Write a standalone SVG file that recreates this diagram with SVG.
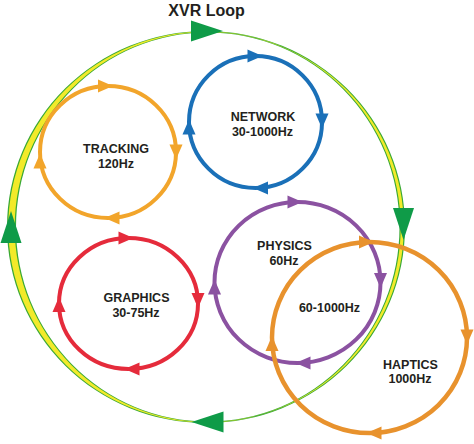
<svg xmlns="http://www.w3.org/2000/svg" xmlns:xlink="http://www.w3.org/1999/xlink" width="474" height="444" viewBox="0 0 474 444">
<style>
  .lbl { font-family: "Liberation Sans", Arial, sans-serif; font-weight: bold; font-size: 12.5px; fill: #231f20; text-anchor: middle; }
  .title { font-family: "Liberation Sans", Arial, sans-serif; font-weight: bold; font-size: 16px; fill: #231f20; text-anchor: middle; }
  .ring { fill: none; stroke-width: 4; }
  .trk { stroke: #f2a52b; fill: #f2a52b; }
  .net { stroke: #1a70b8; fill: #1a70b8; }
  .gfx { stroke: #e52b3b; fill: #e52b3b; }
  .phy { stroke: #8b52a1; fill: #8b52a1; }
  .hap { stroke: #e8922d; fill: #e8922d; }
  .ring.trk, .ring.net, .ring.gfx, .ring.phy, .ring.hap { fill: none; }
  .head { stroke: none; }
  .loopgreen { fill: #3aa935; fill-rule: evenodd; }
  .loopyellow { fill: #f2ea2a; fill-rule: evenodd; }
  .looparrow { fill: #0f9b48; }
</style>
<defs>
  <path id="tri" d="M8,0 L-7,-6.5 L-7,6.5 Z"/>
  <path id="bigtri" d="M16,0 L-16,-10.5 L-16,10.5 Z"/>
</defs>
<rect width="474" height="444" fill="#ffffff"/>

<g id="connectors">
  <path class="loopgreen" d="M7,227 A199,196 0 1,0 405,227 A199,196 0 1,0 7,227 Z M16,227 A191.75,194.5 0 1,0 399.5,227 A191.75,194.5 0 1,0 16,227 Z"/>
  <path class="loopyellow" d="M8.3,227 A197.75,195.5 0 1,0 403.8,227 A197.75,195.5 0 1,0 8.3,227 Z M14.7,227 A193,195 0 1,0 400.7,227 A193,195 0 1,0 14.7,227 Z"/>
  <use xlink:href="#bigtri" class="looparrow" transform="translate(207,31)"/>
  <use xlink:href="#bigtri" class="looparrow" transform="translate(403.5,224) rotate(90)"/>
  <use xlink:href="#bigtri" class="looparrow" transform="translate(207.5,422) rotate(180)"/>
  <use xlink:href="#bigtri" class="looparrow" transform="translate(11,227) rotate(-90)"/>
</g>

<text class="title" x="206.5" y="16">XVR Loop</text>

<g id="tracking">
  <ellipse class="ring trk" cx="108" cy="152" rx="68" ry="66"/>
  <use xlink:href="#tri" class="trk head" transform="translate(105,86)"/>
  <use xlink:href="#tri" class="trk head" transform="translate(176,151.5) rotate(90)"/>
  <use xlink:href="#tri" class="trk head" transform="translate(112.5,218) rotate(180)"/>
  <use xlink:href="#tri" class="trk head" transform="translate(40,161.5) rotate(-90)"/>
  <text class="lbl" x="116" y="153">TRACKING</text>
  <text class="lbl" x="116" y="168">120Hz</text>
</g>

<g id="network">
  <ellipse class="ring net" cx="255.5" cy="122" rx="66.5" ry="66"/>
  <use xlink:href="#tri" class="net head" transform="translate(254.5,56)"/>
  <use xlink:href="#tri" class="net head" transform="translate(322,120.5) rotate(90)"/>
  <use xlink:href="#tri" class="net head" transform="translate(261,188) rotate(180)"/>
  <use xlink:href="#tri" class="net head" transform="translate(189,127.5) rotate(-90)"/>
  <text class="lbl" x="263" y="121">NETWORK</text>
  <text class="lbl" x="262.5" y="136">30-1000Hz</text>
</g>

<g id="graphics">
  <ellipse class="ring gfx" cx="128.5" cy="303.5" rx="69.5" ry="65.5"/>
  <use xlink:href="#tri" class="gfx head" transform="translate(125.5,238)"/>
  <use xlink:href="#tri" class="gfx head" transform="translate(198,300) rotate(90)"/>
  <use xlink:href="#tri" class="gfx head" transform="translate(132.5,369) rotate(180)"/>
  <use xlink:href="#tri" class="gfx head" transform="translate(59,305) rotate(-90)"/>
  <text class="lbl" x="136.5" y="302">GRAPHICS</text>
  <text class="lbl" x="136" y="317">30-75Hz</text>
</g>

<g id="physics">
  <ellipse class="ring phy" cx="297.5" cy="282.5" rx="83" ry="80.5"/>
  <use xlink:href="#tri" class="phy head" transform="translate(294.5,202)"/>
  <use xlink:href="#tri" class="phy head" transform="translate(380.5,280) rotate(90)"/>
  <use xlink:href="#tri" class="phy head" transform="translate(303.5,363) rotate(180)"/>
  <use xlink:href="#tri" class="phy head" transform="translate(214.5,287.5) rotate(-90)"/>
  <text class="lbl" x="284.5" y="250">PHYSICS</text>
  <text class="lbl" x="284" y="265">60Hz</text>
</g>

<g id="haptics">
  <ellipse class="ring hap" cx="369.5" cy="337.5" rx="97.5" ry="95.5" style="stroke-width:4.5"/>
  <use xlink:href="#tri" class="hap head" transform="translate(366,242)"/>
  <use xlink:href="#tri" class="hap head" transform="translate(467,336.5) rotate(90)"/>
  <use xlink:href="#tri" class="hap head" transform="translate(374.5,433) rotate(180)"/>
  <use xlink:href="#tri" class="hap head" transform="translate(272,344) rotate(-90)"/>
  <text class="lbl" x="410.5" y="369">HAPTICS</text>
  <text class="lbl" x="410" y="383">1000Hz</text>
</g>

<text class="lbl" x="329.5" y="312">60-1000Hz</text>
</svg>
